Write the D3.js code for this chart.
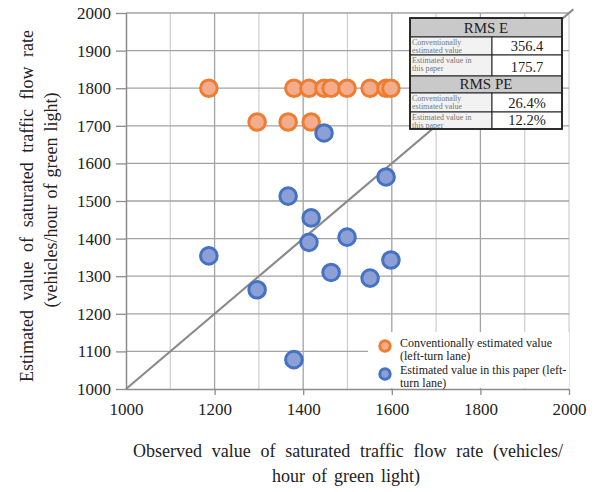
<!DOCTYPE html>
<html>
<head>
<meta charset="utf-8">
<script src="https://cdn.jsdelivr.net/npm/d3@7"></script>
<style>
  html, body { margin: 0; padding: 0; background: #fff; }
  svg { display: block; }
  text { font-family: "Liberation Serif", "Times New Roman", serif; }
</style>
</head>
<body>
<svg id="chart" width="599" height="492"></svg>
<script>
// Observed saturated flow rates (vehicles/hour of green light)
const observed = [1187, 1296, 1366, 1379, 1413, 1418, 1447, 1463, 1499, 1551, 1587, 1598];
// Conventional estimate for each observation
const conventional = [1800, 1710, 1710, 1800, 1800, 1710, 1800, 1800, 1800, 1800, 1800, 1800];
// Estimate from the proposed method
const proposed = [1354, 1264, 1513, 1078, 1390, 1455, 1681, 1310, 1404, 1295, 1564, 1343];

const xTicks = [1000, 1200, 1400, 1600, 1800, 2000];
const yTicks = [1000, 1100, 1200, 1300, 1400, 1500, 1600, 1700, 1800, 1900, 2000];

const legendLines = [["Conventionally estimated value", "(left-turn lane)"],
                     ["Estimated value in this paper (left-", "turn lane)"]];

// Error summary table
const tableHeaders = ["RMS E", "RMS PE"];
const rowLabels = [["Conventionally", "estimated value"], ["Estimated value in", "this paper"]];
const rmseValues = ["356.4", "175.7"];
const rmspeValues = ["26.4%", "12.2%"];

const svg = d3.select("#chart");
const pLeft = 126, pRight = 569, pTop = 13, pBottom = 389;

const x = d3.scaleLinear().domain([1000, 2000]).range([pLeft, pRight]);
const y = d3.scaleLinear().domain([1000, 2000]).range([pBottom, pTop]);

const g = svg.append("g");

// grid: vertical lines every 100, darker on labelled ticks
g.append("g").selectAll("line")
  .data(d3.range(1100, 2001, 100))
  .join("line")
  .attr("x1", d => x(d)).attr("x2", d => x(d))
  .attr("y1", pTop).attr("y2", pBottom)
  .attr("stroke", d => (d % 200 === 0 && d < 2000) ? "#a3a3a3" : "#d2d2d2")
  .attr("stroke-width", 1.3);

// grid: horizontal lines every 100
g.append("g").selectAll("line")
  .data(yTicks.slice(1))
  .join("line")
  .attr("x1", pLeft).attr("x2", pRight)
  .attr("y1", d => y(d)).attr("y2", d => y(d))
  .attr("stroke", "#a3a3a3")
  .attr("stroke-width", 1.3);

// axes
const xAxis = d3.axisBottom(x).tickValues(xTicks).tickSize(6).tickPadding(8).tickFormat(d3.format("d"));
const yAxis = d3.axisLeft(y).tickValues(yTicks).tickSize(10).tickPadding(5).tickFormat(d3.format("d"));

const gx = svg.append("g").attr("transform", `translate(0,${pBottom})`).call(xAxis);
const gy = svg.append("g").attr("transform", `translate(${pLeft},0)`).call(yAxis);
[gx, gy].forEach(a => {
  a.select(".domain").attr("stroke", "#8c8c8c").attr("stroke-width", 1.5);
  a.selectAll(".tick line").attr("stroke", "#8c8c8c").attr("stroke-width", 1.3);
  a.selectAll(".tick text")
    .attr("fill", "#222")
    .style("font-family", "'Liberation Serif', serif")
    .style("font-size", "17px");
});
gx.select(".domain").attr("d", `M${pLeft},0.5H${pRight}`);
gy.select(".domain").attr("d", `M0.5,${pBottom}V${pTop}`);
gx.selectAll(".tick").filter(d => d === 1000).select("line").remove();

// y = x reference line
svg.append("line")
  .attr("x1", x(1000)).attr("y1", y(1000))
  .attr("x2", x(2010)).attr("y2", y(2010))
  .attr("stroke", "#8a8a8a")
  .attr("stroke-width", 2.2);

// points
const pts = svg.append("g");
const orange = { stroke: "#ed7d31", fill: "#f3ad8c" };
const blue = { stroke: "#4472c4", fill: "#8da0d6" };

pts.append("g").selectAll("circle")
  .data(observed.map((o, i) => [o, conventional[i]]))
  .join("circle")
  .attr("cx", d => x(d[0])).attr("cy", d => y(d[1]))
  .attr("r", 8.3)
  .attr("fill", orange.fill).attr("stroke", orange.stroke).attr("stroke-width", 3);

pts.append("g").selectAll("circle")
  .data(observed.map((o, i) => [o, proposed[i]]))
  .join("circle")
  .attr("cx", d => x(d[0])).attr("cy", d => y(d[1]))
  .attr("r", 8.3)
  .attr("fill", blue.fill).attr("stroke", blue.stroke).attr("stroke-width", 3);

// legend
const lg = svg.append("g");
lg.append("rect").attr("x", 368).attr("y", 332).attr("width", pRight - 368).attr("height", pBottom - 332 - 1)
  .attr("fill", "#fff");
[orange, blue].forEach((c, i) => {
  const cy = 346 + i * 28;
  lg.append("circle").attr("cx", 385).attr("cy", cy).attr("r", 5.2)
    .attr("fill", c.fill).attr("stroke", c.stroke).attr("stroke-width", 3);
  legendLines[i].forEach((t, j) => {
    lg.append("text").attr("x", 400).attr("y", cy + 1 - i + j * 13)
      .attr("font-size", "12px").attr("fill", "#222").text(t);
  });
});

// error table
const tb = svg.append("g");
const tx0 = 410, tx1 = 492, tx2 = 562;
const rowsY = [18, 37, 55, 76, 93, 112, 129];
const blocks = [[tableHeaders[0], rmseValues], [tableHeaders[1], rmspeValues]];
blocks.forEach((b, bi) => {
  const hy = rowsY[bi * 3], h1 = rowsY[bi * 3 + 1];
  tb.append("rect").attr("x", tx0).attr("y", hy).attr("width", tx2 - tx0).attr("height", h1 - hy)
    .attr("fill", "#c9c9c9").attr("stroke", "#222").attr("stroke-width", 1);
  tb.append("text").attr("x", (tx0 + tx2) / 2).attr("y", h1 - 4)
    .attr("text-anchor", "middle").attr("font-size", "15px").attr("fill", "#222").text(b[0]);
  b[1].forEach((v, ri) => {
    const ry0 = rowsY[bi * 3 + 1 + ri], ry1 = rowsY[bi * 3 + 2 + ri];
    tb.append("rect").attr("x", tx0).attr("y", ry0).attr("width", tx1 - tx0).attr("height", ry1 - ry0)
      .attr("fill", "#f2f2f2").attr("stroke", "#222").attr("stroke-width", 1);
    tb.append("rect").attr("x", tx1).attr("y", ry0).attr("width", tx2 - tx1).attr("height", ry1 - ry0)
      .attr("fill", "#fff").attr("stroke", "#222").attr("stroke-width", 1);
    rowLabels[ri].forEach((t, k) => {
      tb.append("text").attr("x", tx0 + 2).attr("y", ry0 + 7.5 + k * 8.5)
        .attr("font-size", "8px").attr("fill", "#777").text(t);
    });
    tb.append("text").attr("x", (tx1 + tx2) / 2).attr("y", ry1 - 4)
      .attr("text-anchor", "middle").attr("font-size", "14.5px").attr("fill", "#222").text(v);
  });
});
tb.append("rect").attr("x", tx0).attr("y", rowsY[0]).attr("width", tx2 - tx0).attr("height", rowsY[6] - rowsY[0])
  .attr("fill", "none").attr("stroke", "#222").attr("stroke-width", 1.8);

// spread the words of a title line so it spans the given width
function spread(sel, width) {
  const node = sel.node();
  const natural = node.getComputedTextLength();
  const spaces = (node.textContent.match(/ /g) || []).length;
  if (spaces > 0) sel.style("word-spacing", Math.max(0, (width - natural) / spaces) + "px");
  return sel;
}

// axis titles
const yt = svg.append("g").attr("transform", "translate(0,202) rotate(-90)");
spread(yt.append("text").attr("x", -4).attr("y", 33).attr("text-anchor", "middle")
  .attr("font-size", "18px").attr("fill", "#222")
  .text("Estimated value of saturated traffic flow rate"), 352);
spread(yt.append("text").attr("x", 2).attr("y", 57).attr("text-anchor", "middle")
  .attr("font-size", "18px").attr("fill", "#222")
  .text("(vehicles/hour of green light)"), 215);

spread(svg.append("text").attr("x", 133).attr("y", 457)
  .attr("font-size", "18px").attr("fill", "#222")
  .text("Observed value of saturated traffic flow rate (vehicles/"), 430);
spread(svg.append("text").attr("x", 346).attr("y", 482).attr("text-anchor", "middle")
  .attr("font-size", "18px").attr("fill", "#222")
  .text("hour of green light)"), 148);
</script>
</body>
</html>
